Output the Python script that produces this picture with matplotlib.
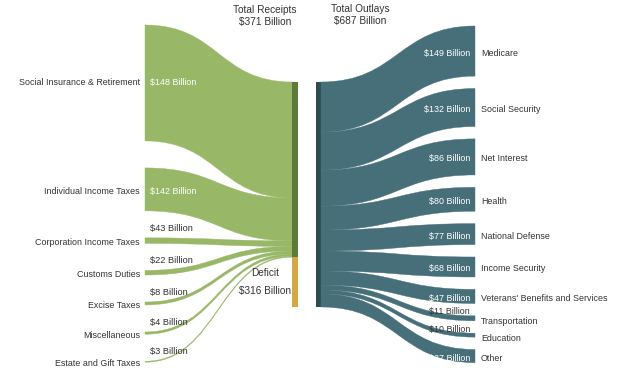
import matplotlib
matplotlib.use("Agg")
import matplotlib.pyplot as plt
from matplotlib.path import Path
from matplotlib.patches import PathPatch, Rectangle

plt.rcParams['font.family'] = ['Liberation Sans', 'DejaVu Sans']

# ---------------- data ----------------
receipt_names = ["Social Insurance & Retirement", "Individual Income Taxes",
                 "Corporation Income Taxes", "Customs Duties", "Excise Taxes",
                 "Miscellaneous", "Estate and Gift Taxes"]
receipt_labels = [148, 142, 43, 22, 8, 4, 3]          # values printed on the chart
receipt_flow = [354, 131, 17, 14, 9, 7, 3]           # band widths as drawn (billions-equivalent)
deficit_label = 316
deficit_flow = 152
total_receipts = 371
total_outlays = 687

outlay_names = ["Medicare", "Social Security", "Net Interest", "Health",
                "National Defense", "Income Security",
                "Veterans' Benefits and Services", "Transportation",
                "Education", "Other"]
outlay_labels = [149, 132, 86, 80, 77, 68, 47, 11, 10, 27]
outlay_flow = [153, 116, 110, 73, 64, 61, 43, 15, 12, 40]

# ---------------- style ----------------
GREEN = "#98b868"
GREEN_DARK = "#5b7b3b"
GOLD = "#d3a847"
TEAL = "#466f79"
TEAL_DARK = "#2e4b50"
TXT = "#333333"

fig = plt.figure(figsize=(6.4, 3.74), dpi=100)
ax = fig.add_axes([0, 0, 1, 1])
ax.set_xlim(0, 640)
ax.set_ylim(374, 0)
ax.axis("off")

total_units = sum(receipt_flow) + deficit_flow
bar_top, bar_bottom = 82, 307
scale = (bar_bottom - bar_top) / total_units

def band(x0, t0, b0, x1, t1, b1, color):
    xm = (x0 + x1) / 2
    verts = [(x0, t0), (xm, t0), (xm, t1), (x1, t1),
             (x1, b1), (xm, b1), (xm, b0), (x0, b0), (x0, t0)]
    codes = [Path.MOVETO, Path.CURVE4, Path.CURVE4, Path.CURVE4,
             Path.LINETO, Path.CURVE4, Path.CURVE4, Path.CURVE4, Path.CLOSEPOLY]
    ax.add_patch(PathPatch(Path(verts, codes), facecolor=color,
                           edgecolor=color, lw=0.3))

FS = 6.4

# ---------------- receipts (left) ----------------
lx0, lx1 = 145, 292
gap_left = 27
y_node = 25
y_bar = bar_top
for name, lab, v in zip(receipt_names, receipt_labels, receipt_flow):
    h = v * scale
    band(lx0, y_node, y_node + h, lx1, y_bar, y_bar + h, GREEN)
    c = y_node + h / 2
    off = 0 if h > 50 else 2
    ax.text(140, c + off, name, ha="right", va="center", fontsize=FS, color=TXT)
    if h > 10:
        ax.text(150, c + off, f"${lab} Billion", ha="left", va="center",
                fontsize=FS, color="white")
    else:
        ax.text(150, y_node - 9.5, f"${lab} Billion", ha="left", va="center",
                fontsize=FS + 0.3, color=TXT)
    y_node += h + gap_left
    y_bar += h

rec_h = sum(receipt_flow) * scale
ax.add_patch(Rectangle((292, bar_top), 6, rec_h, facecolor=GREEN_DARK, lw=0))
ax.add_patch(Rectangle((292, bar_top + rec_h), 6, deficit_flow * scale,
                       facecolor=GOLD, lw=0))
ax.text(265, 273, "Deficit", ha="center", va="center", fontsize=7.2, color=TXT)
ax.text(265, 291, f"${deficit_label} Billion", ha="center", va="center",
        fontsize=7.2, color=TXT)
ax.text(265, 16, f"Total Receipts\n${total_receipts} Billion", ha="center",
        va="center", fontsize=7.3, color=TXT, linespacing=1.3)

# ---------------- outlays (right) ----------------
ax.add_patch(Rectangle((316, bar_top), 5, bar_bottom - bar_top,
                       facecolor=TEAL_DARK, lw=0))
ax.text(360, 15, f"Total Outlays\n${total_outlays} Billion", ha="center",
        va="center", fontsize=7.3, color=TXT, linespacing=1.3)

rx0, rx1 = 321, 475
gap_right = 12.4
y_node = 26
y_bar = bar_top
for name, lab, v in zip(outlay_names, outlay_labels, outlay_flow):
    h = v * scale
    band(rx0, y_bar, y_bar + h, rx1, y_node, y_node + h, TEAL)
    c = y_node + h / 2
    if h > 10:
        ax.text(470, c + 2, f"${lab} Billion", ha="right", va="center",
                fontsize=FS, color="white")
        ax.text(481, c + 2, name, ha="left", va="center", fontsize=FS, color=TXT)
    else:
        ax.text(470, y_node - 4, f"${lab} Billion", ha="right", va="center",
                fontsize=FS, color=TXT)
        ax.text(481, c + 3, name, ha="left", va="center", fontsize=FS, color=TXT)
    y_node += h + gap_right
    y_bar += h

fig.savefig("out.png", dpi=100)
